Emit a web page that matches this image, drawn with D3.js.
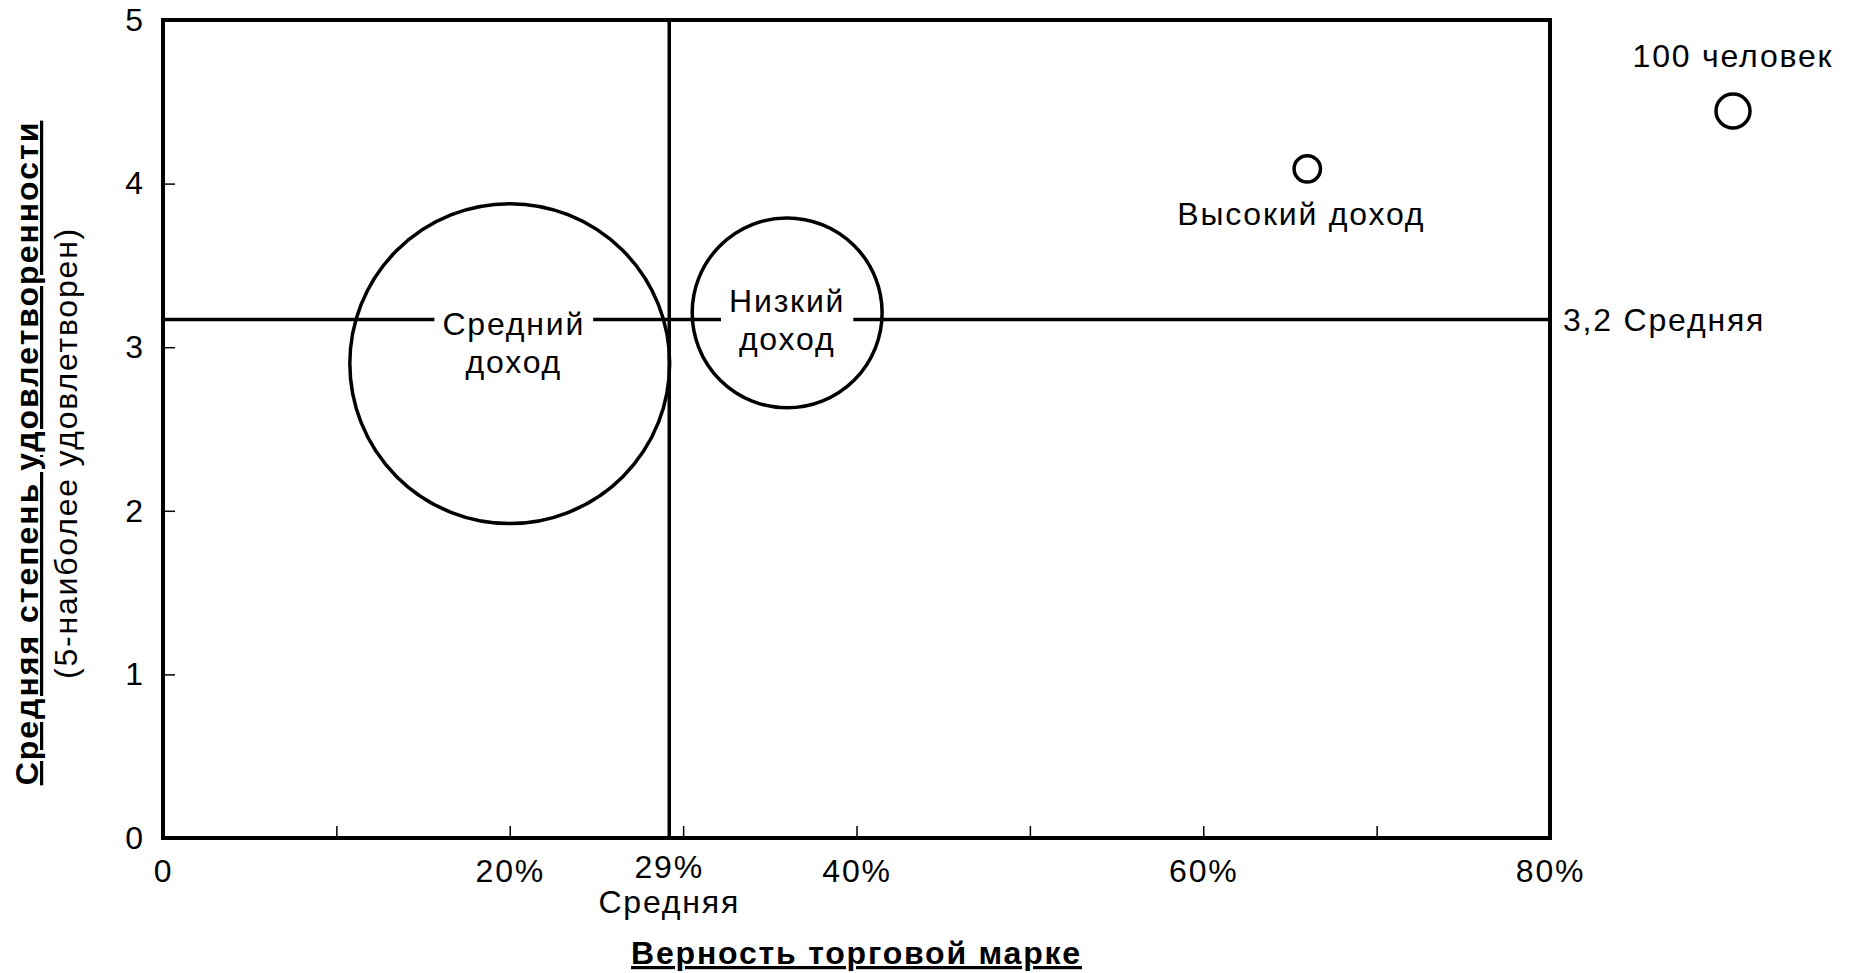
<!DOCTYPE html>
<html>
<head>
<meta charset="utf-8">
<script src="https://cdn.jsdelivr.net/npm/d3@7"></script>
<style>
  html, body { margin: 0; padding: 0; background: #fff; }
  svg { display: block; }
  text { font-family: "Liberation Sans", Arial, Helvetica, sans-serif; fill: #000; }
</style>
</head>
<body>
<svg id="chart" width="1854" height="973"></svg>
<script>
// ---- data ----
const groups = ["Средний доход", "Низкий доход", "Высокий доход"];
const groupLines = [["Средний", "доход"], ["Низкий", "доход"], ["Высокий доход"]];
const loyalty = [20, 36, 66];           // % brand loyalty
const satisfaction = [2.90, 3.21, 4.09]; // mean satisfaction (1-5)
const respondents = [8850, 3120, 60];    // bubble size (people)
const legendSize = 100;
const legendLabel = "100 человек";
const meanLoyalty = 29.2;
const meanLoyaltyLabel = ["29%", "Средняя"];
const meanSatisfaction = 3.17;
const meanSatisfactionLabel = "3,2 Средняя";
const xTicks = [0, 10, 20, 30, 40, 50, 60, 70, 80];
const xTickLabels = ["0", "", "20%", "", "40%", "", "60%", "", "80%"];
const yTicks = [0, 1, 2, 3, 4, 5];
const xTitle = "Верность торговой марке";
const yTitle = "Средняя степень удовлетворенности";
const ySubTitle = "(5-наиболее удовлетворен)";

// ---- layout ----
const L = 163, R = 1550, T = 20, B = 838;
const FS = 32;
const LS = "1.8px";
const svg = d3.select("#chart");

const x = d3.scaleLinear().domain([0, 80]).range([L, R]);
const y = d3.scaleLinear().domain([0, 5]).range([B, T]);
const r = d3.scaleSqrt().domain([0, legendSize]).range([0, 17]);

// x axis
const xAxis = d3.axisBottom(x)
  .tickValues(xTicks)
  .tickFormat((d, i) => xTickLabels[i])
  .tickSizeInner(-12).tickSizeOuter(0).tickPadding(21);
const gx = svg.append("g").attr("transform", `translate(0,${B})`).call(xAxis);
gx.select(".domain").remove();
gx.selectAll(".tick line").attr("stroke", "#000").attr("stroke-width", 1.5);
gx.selectAll(".tick text").attr("font-size", FS).attr("font-family", null).style("letter-spacing", LS);

// y axis
const yAxis = d3.axisLeft(y)
  .tickValues(yTicks)
  .tickFormat(d3.format("d"))
  .tickSizeInner(-12).tickSizeOuter(0).tickPadding(20);
const gy = svg.append("g").attr("transform", `translate(${L},0)`).call(yAxis);
gy.select(".domain").remove();
gy.selectAll(".tick line").attr("stroke", "#000").attr("stroke-width", 1.5);
gy.selectAll(".tick text").attr("font-size", FS).attr("font-family", null);

// frame
svg.append("rect")
  .attr("x", L).attr("y", T).attr("width", R - L).attr("height", B - T)
  .attr("fill", "none").attr("stroke", "#000").attr("stroke-width", 4);

// mean lines
svg.append("line")
  .attr("x1", x(meanLoyalty)).attr("x2", x(meanLoyalty))
  .attr("y1", T).attr("y2", B)
  .attr("stroke", "#000").attr("stroke-width", 3.5);
svg.append("line")
  .attr("x1", L).attr("x2", R)
  .attr("y1", y(meanSatisfaction)).attr("y2", y(meanSatisfaction))
  .attr("stroke", "#000").attr("stroke-width", 3.5);

// mean labels
svg.append("text").attr("x", x(meanLoyalty)).attr("y", B + 40)
  .attr("text-anchor", "middle").attr("font-size", FS).style("letter-spacing", LS)
  .text(meanLoyaltyLabel[0]);
svg.append("text").attr("x", x(meanLoyalty)).attr("y", B + 75)
  .attr("text-anchor", "middle").attr("font-size", FS).style("letter-spacing", LS)
  .text(meanLoyaltyLabel[1]);
svg.append("text").attr("x", R + 13).attr("y", y(meanSatisfaction)).attr("dy", "0.35em")
  .attr("font-size", FS).style("letter-spacing", LS)
  .text(meanSatisfactionLabel);

// bubbles
const data = groups.map((g, i) => ({
  name: g, lines: groupLines[i], x: loyalty[i], y: satisfaction[i], n: respondents[i]
}));
svg.append("g").selectAll("circle").data(data).join("circle")
  .attr("cx", d => x(d.x)).attr("cy", d => y(d.y)).attr("r", d => r(d.n))
  .attr("fill", "none").attr("stroke", "#000").attr("stroke-width", 3.5);

// bubble labels (inside for big ones, below for small)
const labelOffsets = [[4, -40], [0, -12], [-6, 45]];
const lineH = 38;
data.forEach((d, i) => {
  const g = svg.append("g")
    .attr("transform", `translate(${x(d.x) + labelOffsets[i][0]},${y(d.y) + labelOffsets[i][1]})`);
  const bg = g.append("rect").attr("fill", "#fff");
  const t = g.append("text").attr("text-anchor", "middle").attr("font-size", FS)
    .style("letter-spacing", LS);
  d.lines.forEach((ln, k) => {
    t.append("tspan").attr("x", 0).attr("y", k * lineH).attr("dy", "0.35em").text(ln);
  });
  const bb = t.node().getBBox();
  bg.attr("x", bb.x - 8).attr("y", bb.y - 2).attr("width", bb.width + 16).attr("height", bb.height + 4);
});

// legend
const lgX = 1733, lgY = 111;
svg.append("circle").attr("cx", lgX).attr("cy", lgY).attr("r", r(legendSize))
  .attr("fill", "none").attr("stroke", "#000").attr("stroke-width", 3.5);
svg.append("text").attr("x", lgX).attr("y", 67).attr("text-anchor", "middle")
  .attr("font-size", FS).style("letter-spacing", LS).text(legendLabel);

// axis titles
svg.append("text").attr("x", (L + R) / 2).attr("y", 964)
  .attr("text-anchor", "middle").attr("font-size", FS).attr("font-weight", "bold")
  .attr("text-decoration", "underline").style("letter-spacing", LS).text(xTitle);

svg.append("text")
  .attr("transform", `translate(38,453) rotate(-90)`)
  .attr("text-anchor", "middle").attr("font-size", FS).attr("font-weight", "bold")
  .attr("text-decoration", "underline").style("letter-spacing", "2px").text(yTitle);
svg.append("text")
  .attr("transform", `translate(77,453) rotate(-90)`)
  .attr("text-anchor", "middle").attr("font-size", FS).style("letter-spacing", LS)
  .text(ySubTitle);
</script>
</body>
</html>
